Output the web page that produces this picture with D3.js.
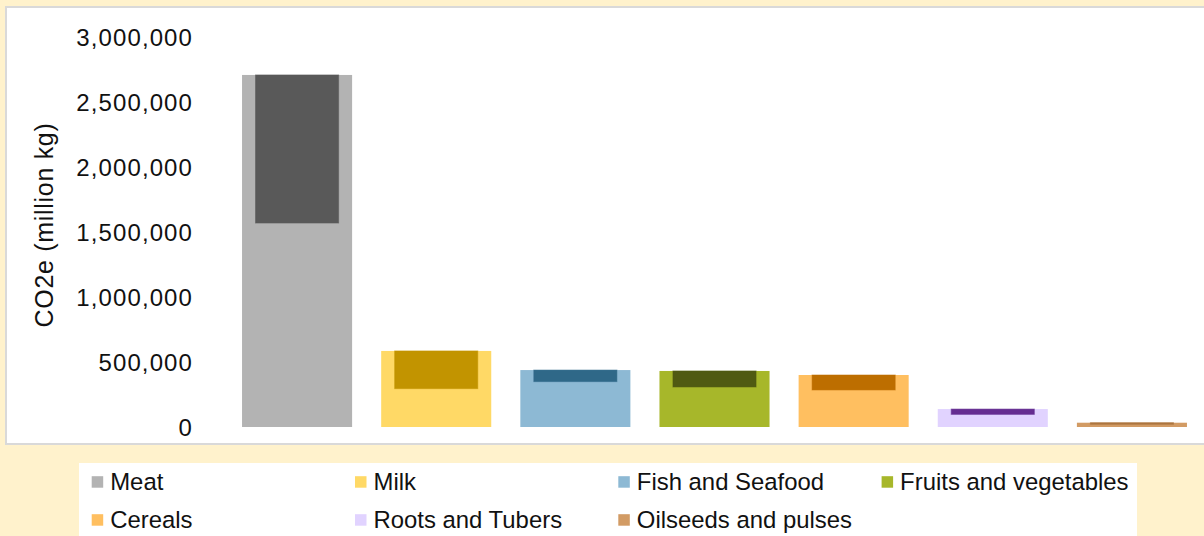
<!DOCTYPE html>
<html>
<head>
<meta charset="utf-8">
<script src="https://cdn.jsdelivr.net/npm/d3@7"></script>
<style>
  html, body { margin: 0; padding: 0; background: #FFF2CC; }
  svg { display: block; font-family: "Liberation Sans", Arial, sans-serif; }
</style>
</head>
<body>
<svg id="chart" width="1204" height="536"></svg>
<script>
// Food categories and their emissions (CO2e, million kg)
const categories = ["Meat", "Milk", "Fish and Seafood", "Fruits and vegetables", "Cereals", "Roots and Tubers", "Oilseeds and pulses"];
const totalEmissions = [2708000, 585000, 438000, 431000, 400000, 138000, 33000];
const topSegment = [1139000, 290000, 89000, 123000, 115000, 41000, 12000];
const lightColors = ["#B3B3B3", "#FFD966", "#8DB9D4", "#A7B72A", "#FFBF60", "#E1D3FF", "#D29B64"];
const darkColors = ["#595959", "#C29400", "#2F6888", "#505A12", "#BD6E00", "#652D91", "#AC743E"];
const yTicks = [0, 500000, 1000000, 1500000, 2000000, 2500000, 3000000];
const yTitle = "CO2e (million kg)";

const svg = d3.select("#chart");

// white chart panel
svg.append("rect")
  .attr("x", 6).attr("y", 7).attr("width", 1200).attr("height", 437)
  .attr("fill", "#fff").attr("stroke", "#D9D9D9").attr("stroke-width", 2);

const x = d3.scaleBand()
  .domain(categories)
  .range([227.5, 1201.5])
  .paddingInner(0.209)
  .paddingOuter(0.1045);

const y = d3.scaleLinear().domain([0, 3000000]).range([427, 37]);

// y axis: labels only, no line or ticks
const yAxis = d3.axisLeft(y)
  .tickValues(yTicks)
  .tickFormat(d3.format(","))
  .tickSize(0)
  .tickPadding(0);

const gy = svg.append("g").attr("transform", "translate(193,0)").call(yAxis);
gy.select(".domain").remove();
gy.selectAll("text")
  .attr("font-family", "Liberation Sans, Arial, sans-serif")
  .attr("font-size", 24)
  .attr("letter-spacing", 1.1)
  .attr("fill", "#111")
  .attr("dy", "0.35em");

svg.append("text")
  .attr("transform", "translate(53,225) rotate(-90)")
  .attr("text-anchor", "middle")
  .attr("font-size", 25)
  .attr("letter-spacing", 0.7)
  .attr("fill", "#111")
  .text(yTitle);

const rows = categories.map((c, i) => ({
  cat: c, total: totalEmissions[i], seg: topSegment[i],
  light: lightColors[i], dark: darkColors[i]
}));

// full bars
svg.append("g").selectAll("rect").data(rows).join("rect")
  .attr("x", d => x(d.cat))
  .attr("width", x.bandwidth())
  .attr("y", d => y(d.total))
  .attr("height", d => y(0) - y(d.total))
  .attr("fill", d => d.light);

// darker top segment, narrower and centred
const innerW = x.bandwidth() * 0.755;
svg.append("g").selectAll("rect").data(rows).join("rect")
  .attr("x", d => x(d.cat) + (x.bandwidth() - innerW) / 2)
  .attr("width", innerW)
  .attr("y", d => y(d.total))
  .attr("height", d => y(d.total - d.seg) - y(d.total))
  .attr("fill", d => d.dark)
  .attr("stroke", d => d.dark)
  .attr("stroke-opacity", 0.55)
  .attr("stroke-width", 1);

// legend
svg.append("rect")
  .attr("x", 79).attr("y", 463).attr("width", 1058).attr("height", 80)
  .attr("fill", "#fff");

const legend = svg.append("g").selectAll("g").data(rows).join("g")
  .attr("transform", (d, i) => `translate(${91.7 + (i % 4) * 263.3},${i < 4 ? 482 : 520})`);
legend.append("rect")
  .attr("x", 0).attr("y", -5.8).attr("width", 11.5).attr("height", 11.5)
  .attr("fill", d => d.light);
legend.append("text")
  .attr("x", 18.5).attr("dy", "0.35em")
  .attr("font-size", 23.9)
  .attr("fill", "#111")
  .text(d => d.cat);
</script>
</body>
</html>
